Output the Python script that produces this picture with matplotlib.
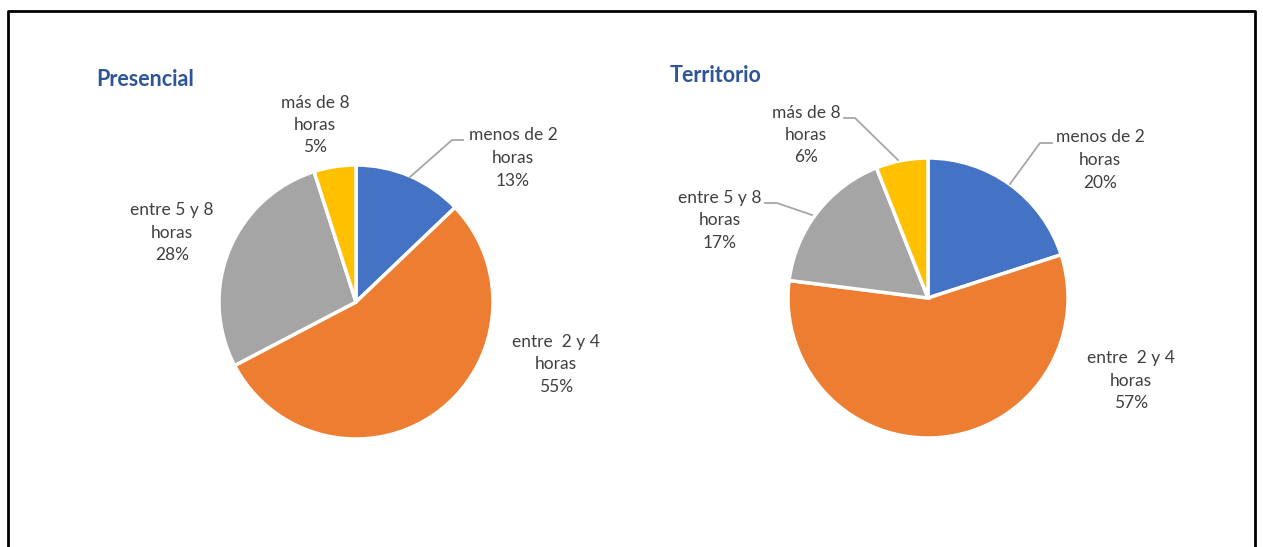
import matplotlib.pyplot as plt

# data
categorias = ["menos de 2\nhoras", "entre  2 y 4\nhoras", "entre 5 y 8\nhoras", "más de 8\nhoras"]
presencial = [13, 55, 28, 5]
territorio = [20, 57, 17, 6]
colores = ["#4472C4", "#ED7D31", "#A5A5A5", "#FFC000"]

W, H = 1263, 547

plt.rcParams['font.family'] = ['Lato', 'DejaVu Sans']

fig = plt.figure(figsize=(W / 100, H / 100), dpi=100)
ax = fig.add_axes([0, 0, 1, 1])


def py(y):
    # pixel row -> data y
    return H - y


# frame (top, left, right; bottom is cut off)
ax.plot([8, 8, 1255, 1255], [0, py(11), py(11), 0], color="black", lw=2, clip_on=False)

texto_gris = "#404040"
linea_gris = "#A6A6A6"
azul_titulo = "#2F5597"


def dibujar_pie(valores, centro, radio, titulo, pos_titulo, pos_etiquetas, lineas):
    ax.pie(valores, colors=colores, startangle=90, counterclock=False,
           center=(centro[0], py(centro[1])), radius=radio, frame=True,
           wedgeprops=dict(edgecolor="white", linewidth=2.5))
    ax.text(pos_titulo[0], py(pos_titulo[1]), titulo, fontsize=15.5, fontweight="bold",
            color=azul_titulo, ha="left", va="center")
    for cat, val, (x, y) in zip(categorias, valores, pos_etiquetas):
        ax.text(x, py(y), f"{cat}\n{val}%", fontsize=12.5, color=texto_gris,
                ha="center", va="center", linespacing=1.5)
    for pts in lineas:
        ax.plot([p[0] for p in pts], [py(p[1]) for p in pts], color=linea_gris, lw=1.3)


dibujar_pie(presencial, (356, 302), 137, "Presencial", (96, 80),
            [(513, 158), (556, 364), (172, 233), (315, 125)],
            [[(410, 177), (452, 140), (463, 140)]])

dibujar_pie(territorio, (928, 298), 140, "Territorio", (670, 75),
            [(1100, 160), (1131, 381), (720, 220), (806, 135)],
            [[(1010, 184), (1040, 143), (1052, 143)],
             [(898, 160), (855, 118), (844, 118)],
             [(812, 215), (777, 203), (765, 203)]])

ax.set_xlim(0, W)
ax.set_ylim(0, H)
ax.set_aspect('equal')
ax.axis('off')

fig.savefig("out.png", dpi=100)
